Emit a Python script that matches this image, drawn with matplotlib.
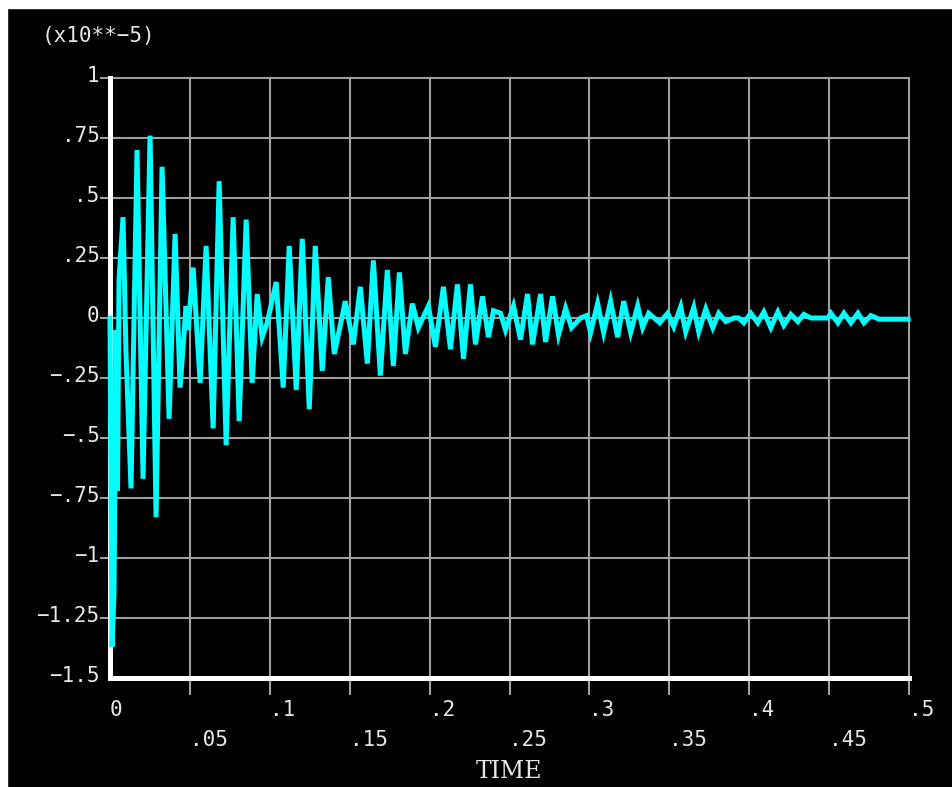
import numpy as np
import matplotlib.pyplot as plt
from matplotlib.patches import Rectangle

# displacement history, values in units of 1e-5 (read from the peaks / troughs)
time = [0.0, 0.00125, 0.0025, 0.00376, 0.0047, 0.00564, 0.00815, 0.01003,
        0.01316, 0.01692, 0.02068, 0.02506, 0.02882, 0.03258, 0.03697, 0.04073,
        0.04386, 0.04762, 0.04887, 0.05201, 0.05639, 0.06015, 0.06454, 0.0683,
        0.07268, 0.07707, 0.08083, 0.08521, 0.08897, 0.09211, 0.09524, 0.09837,
        0.10401, 0.1084, 0.11216, 0.11654, 0.1203, 0.12469, 0.12845, 0.13283,
        0.13659, 0.14035, 0.14724, 0.15226, 0.15664, 0.16103, 0.16479, 0.16917,
        0.17356, 0.17732, 0.18108, 0.18484, 0.18922, 0.19298, 0.19925, 0.20363,
        0.20865, 0.21303, 0.21742, 0.22118, 0.22556, 0.2287, 0.23308, 0.23684,
        0.23997, 0.24436, 0.24749, 0.25251, 0.25689, 0.26128, 0.26441, 0.26942,
        0.27256, 0.27694, 0.2807, 0.28509, 0.28885, 0.29449, 0.29825, 0.30075,
        0.30514, 0.3089, 0.31328, 0.31767, 0.32143, 0.32581, 0.3302, 0.33333,
        0.33709, 0.34398, 0.349, 0.35276, 0.35714, 0.36028, 0.36529, 0.36842,
        0.37281, 0.37719, 0.38095, 0.38534, 0.39035, 0.39348, 0.39662, 0.401,
        0.40539, 0.40915, 0.41353, 0.41792, 0.42168, 0.42607, 0.43045, 0.43421,
        0.4386, 0.44925, 0.45113, 0.45551, 0.45927, 0.46366, 0.46805, 0.4718,
        0.47619, 0.4812, 0.48559, 0.49937]
disp = [0.0, -1.37, -1.15, -0.05, -0.72, 0.16, 0.42, -0.15,
        -0.71, 0.70, -0.67, 0.76, -0.83, 0.63, -0.42, 0.35,
        -0.29, 0.05, -0.05, 0.21, -0.27, 0.30, -0.46, 0.57,
        -0.53, 0.42, -0.43, 0.41, -0.27, 0.10, -0.08, -0.02,
        0.15, -0.29, 0.30, -0.30, 0.33, -0.38, 0.30, -0.22,
        0.17, -0.15, 0.07, -0.11, 0.13, -0.19, 0.24, -0.24,
        0.20, -0.20, 0.19, -0.15, 0.06, -0.04, 0.05, -0.12,
        0.13, -0.13, 0.14, -0.17, 0.14, -0.11, 0.09, -0.08,
        0.03, 0.02, -0.05, 0.05, -0.09, 0.10, -0.11, 0.10,
        -0.10, 0.09, -0.07, 0.04, -0.04, 0.0, 0.01, -0.06,
        0.06, -0.06, 0.07, -0.08, 0.07, -0.06, 0.05, -0.04,
        0.02, -0.02, 0.02, -0.036, 0.047, -0.057, 0.044, -0.057,
        0.037, -0.04, 0.02, -0.015, 0.0, 0.0, -0.02, 0.02,
        -0.02, 0.025, -0.04, 0.025, -0.03, 0.015, -0.015, 0.015,
        0.0, 0.0, 0.02, -0.02, 0.02, -0.02, 0.02, -0.02,
        0.01, -0.005, -0.005, -0.005]

x_ticks = [0.05, 0.1, 0.15, 0.2, 0.25, 0.3, 0.35, 0.4, 0.45, 0.5]
x_label_pos = [0, 0.05, 0.1, 0.15, 0.2, 0.25, 0.3, 0.35, 0.4, 0.45, 0.5]
x_labels = ["0", ".05", ".1", ".15", ".2", ".25", ".3", ".35", ".4", ".45", ".5"]
y_ticks = [-1.25, -1, -0.75, -0.5, -0.25, 0, 0.25, 0.5, 0.75, 1]
y_label_pos = [-1.5, -1.25, -1, -0.75, -0.5, -0.25, 0, 0.25, 0.5, 0.75, 1]
y_labels = ["\u22121.5", "\u22121.25", "\u22121", "\u2212.75", "\u2212.5", "\u2212.25",
            "0", ".25", ".5", ".75", "1"]

grid_col = "#a0a0a0"
text_col = "#e6e6e6"
mono = "DejaVu Sans Mono"

fig = plt.figure(figsize=(9.52, 7.87), dpi=100, facecolor="black")
# white strips at the top and left edge of the screenshot
fig.patches.append(Rectangle((0, 1 - 8 / 787), 1, 8 / 787, transform=fig.transFigure,
                             color="white", zorder=0))
fig.patches.append(Rectangle((0, 0), 7 / 952, 1, transform=fig.transFigure,
                             color="white", zorder=0))

ax = fig.add_axes([110 / 952, 109 / 787, 799 / 952, 600 / 787])
ax.set_facecolor("black")
ax.set_xlim(0, 0.5)
ax.set_ylim(-1.5, 1)

for t in x_ticks:
    ax.axvline(t, color=grid_col, lw=1.5, clip_on=False, zorder=1)
for v in y_ticks:
    ax.axhline(v, color=grid_col, lw=1.5, clip_on=False, zorder=1)

for side in ["top", "right"]:
    ax.spines[side].set_visible(False)
for side in ["left", "bottom"]:
    ax.spines[side].set_color("white")
    ax.spines[side].set_linewidth(3.6)

ax.set_xticks(x_ticks)
ax.set_xticklabels([])
ax.tick_params(axis="x", length=12, width=1.5, color=grid_col, direction="out")
ax.set_yticks(y_ticks)
ax.set_yticklabels([])
ax.tick_params(axis="y", length=7, width=1.5, color=grid_col, direction="out")

for v, lab in zip(y_label_pos, y_labels):
    ax.annotate(lab, xy=(0, v), xycoords=("axes fraction", "data"),
                xytext=(-7.5, 1.5), textcoords="offset points", ha="right", va="center",
                fontsize=15, family=mono, color=text_col)

for i, (t, lab) in enumerate(zip(x_label_pos, x_labels)):
    dy = -23 if i % 2 == 0 else -44.6
    ax.annotate(lab, xy=(t, 0), xycoords=("data", "axes fraction"),
                xytext=(0, dy), textcoords="offset points", ha="left", va="center",
                fontsize=15, family=mono, color=text_col, annotation_clip=False)

ax.annotate("TIME", xy=(0.5, 0), xycoords="axes fraction", xytext=(0, -67.5),
            textcoords="offset points", ha="center", va="center",
            fontsize=17, family="DejaVu Serif", color=text_col)

fig.text(42 / 952, 1 - 36 / 787, "(x10**\u22125)", ha="left", va="center",
         fontsize=15, family=mono, color=text_col)

ax.plot(time, disp, color="#00ffff", lw=3.6, zorder=3, clip_on=False,
        solid_joinstyle="miter")

fig.savefig("out.png", dpi=100, facecolor="black")
